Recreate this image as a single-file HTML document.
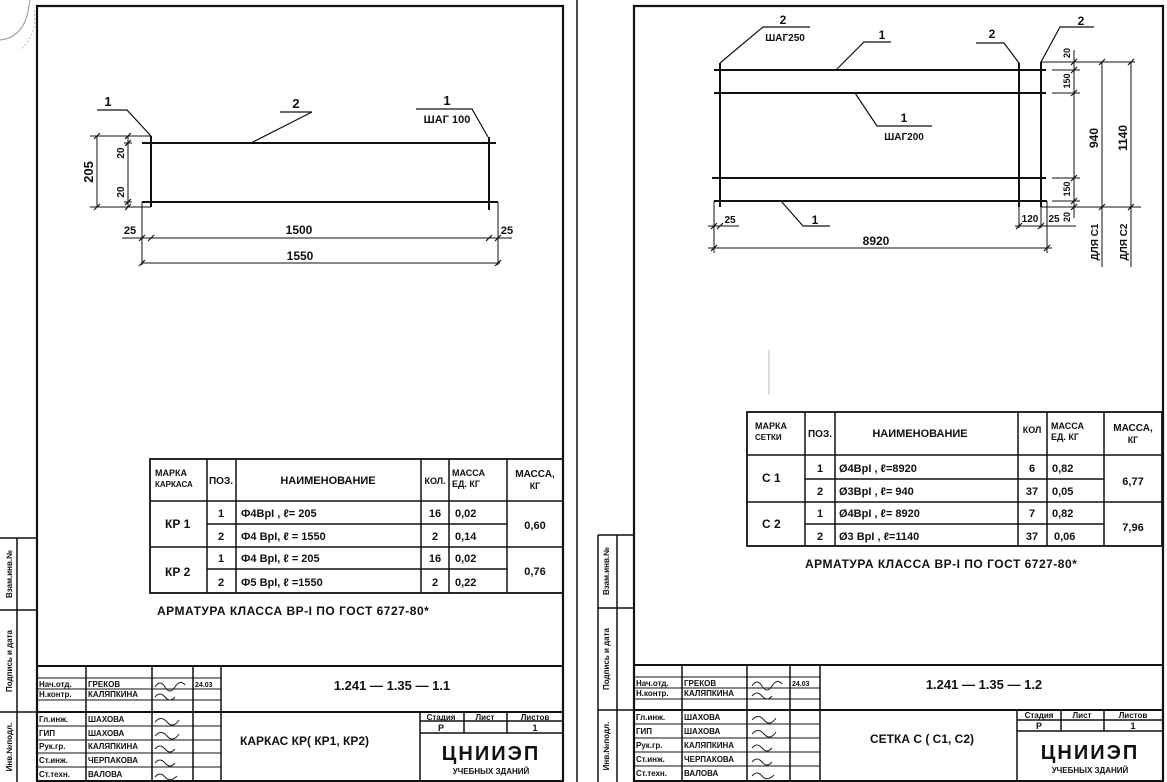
<!DOCTYPE html>
<html><head><meta charset="utf-8"><style>
html,body{margin:0;padding:0;background:#fff;}
svg{display:block;}
text{font-family:"Liberation Sans",sans-serif;font-weight:bold;fill:#111;}
</style></head><body>
<svg width="1167" height="782" viewBox="0 0 1167 782" xmlns="http://www.w3.org/2000/svg">
<rect width="1167" height="782" fill="#fff"/>
<path d="M0 40 Q22 38 28 12 L30 0" fill="none" stroke="#999" stroke-width="1"/>
<path d="M34 10 Q38 35 20 50" fill="none" stroke="#bbb" stroke-width="1" stroke-dasharray="2 2"/>

<g stroke="#111" fill="none">
<path d="M37 782 V6 H563 V782" stroke-width="2.2"/>
<line x1="37" y1="781" x2="563" y2="781" stroke-width="2"/>
<line x1="577" y1="0" x2="577" y2="782" stroke-width="1.5"/>
<path d="M0 538 H37 M17 538 V782 M0 610 H37 M0 712 H37" stroke-width="1.5"/>

<line x1="142" y1="143" x2="496" y2="143" stroke-width="2"/>
<line x1="142" y1="202" x2="498" y2="202" stroke-width="2"/>
<line x1="151" y1="136" x2="151" y2="207" stroke-width="2"/>
<line x1="489" y1="137" x2="489" y2="210" stroke-width="2"/>
<line x1="142" y1="202" x2="142" y2="265" stroke-width="1"/>
<line x1="498" y1="202" x2="498" y2="265" stroke-width="1"/>
<path d="M90 136 H151 M90 207 H151 M97 136 V207 M128 136 V207 M124 143 H132 M124 202 H132" stroke-width="1"/>
<path d="M122 238 H512 M142 263 H500" stroke-width="1"/>
<path d="M94 139 l6 -6 M94 210 l6 -6 M125 139 l6-6 M125 146 l6-6 M125 205 l6-6 M125 210 l6-6 M139 241 l6-6 M148 241 l6-6 M486 241 l6-6 M495 241 l6-6 M139 266 l6-6 M495 266 l6-6" stroke-width="1.2"/>
<path d="M97 110 H127 L151 136" stroke-width="1.2"/>
<path d="M280 112 H312 L251 143" stroke-width="1.2"/>
<path d="M416 109 H472 L488 137" stroke-width="1.2"/>

<rect x="150" y="459" width="413" height="134" stroke-width="1.8"/>
<path d="M150 501 H563 M207 524 H507 M150 547 H563 M207 569 H507 M207 459 V593 M236 459 V593 M421 459 V593 M449 459 V593 M507 459 V593" stroke-width="1.5"/>

<line x1="37" y1="666" x2="563" y2="666" stroke-width="2"/>
<line x1="37" y1="712" x2="563" y2="712" stroke-width="2"/>
<path d="M86 666 V782 M152 666 V782 M193 666 V782 M221 666 V782" stroke-width="1.5"/>
<path d="M37 678 H221 M37 689 H221 M37 700 H221 M37 726 H221 M37 740 H221 M37 753 H221 M37 767 H221" stroke-width="1"/>
<path d="M420 712 V782 M420 721 H563 M420 733 H563 M464 712 V733 M507 712 V733" stroke-width="1.5"/>

<path d="M634 782 V6 H1163 V782" stroke-width="2.2"/>
<line x1="634" y1="781" x2="1163" y2="781" stroke-width="2"/>
<path d="M598 535 H634 M598 535 V782 M617 535 V782 M598 608 H634 M598 710 H634" stroke-width="1.5"/>

<line x1="714" y1="70" x2="1046" y2="70" stroke-width="2"/>
<line x1="714" y1="93" x2="1046" y2="93" stroke-width="2"/>
<line x1="712" y1="178" x2="1046" y2="178" stroke-width="2"/>
<line x1="714" y1="201" x2="1047" y2="201" stroke-width="2"/>
<line x1="720" y1="63" x2="720" y2="207" stroke-width="2"/>
<line x1="1019" y1="63" x2="1019" y2="207" stroke-width="2"/>
<line x1="1041" y1="62" x2="1041" y2="207" stroke-width="2"/>
<path d="M714 201 V253 M1047 201 V253 M1019 207 V228 M1041 207 V228" stroke-width="1"/>
<path d="M708 226 H739 M1015 226 H1076 M708 248 H1052" stroke-width="1"/>
<path d="M1041 62 H1135 M1041 207 H1141 M1074 50 V218 M1052 70 H1080 M1052 93 H1080 M1052 178 H1080 M1052 201 H1080 M1102 62 V267 M1131 62 V267" stroke-width="1"/>
<path d="M711 229 l6-6 M717 229 l6-6 M1016 229 l6-6 M1038 229 l6-6 M711 251 l6-6 M1044 251 l6-6 M1071 65 l6-6 M1071 73 l6-6 M1071 96 l6-6 M1071 181 l6-6 M1071 204 l6-6 M1071 210 l6-6 M1099 65 l6-6 M1099 210 l6-6 M1128 65 l6-6 M1128 210 l6-6" stroke-width="1.2"/>
<path d="M810 27 H763 L720 63" stroke-width="1.2"/>
<path d="M891 42 H864 L836 70" stroke-width="1.2"/>
<path d="M976 43 H1004 L1019 63" stroke-width="1.2"/>
<path d="M1094 27 H1060 L1041 62" stroke-width="1.2"/>
<path d="M855 93 L877 126 H932" stroke-width="1.2"/>
<path d="M781 201 L803 226 H830" stroke-width="1.2"/>
<line x1="769" y1="350" x2="769" y2="395" stroke="#bbb" stroke-width="1"/>

<rect x="747" y="412" width="415" height="134" stroke-width="1.8"/>
<path d="M747 455 H1162 M805 479 H1104 M747 502 H1162 M805 524 H1104 M805 412 V546 M835 412 V546 M1018 412 V546 M1047 412 V546 M1104 412 V546" stroke-width="1.5"/>

<line x1="634" y1="665" x2="1163" y2="665" stroke-width="2"/>
<line x1="634" y1="710" x2="1163" y2="710" stroke-width="2"/>
<path d="M682 665 V782 M747 665 V782 M790 665 V782 M820 665 V782" stroke-width="1.5"/>
<path d="M634 677 H820 M634 688 H820 M634 699 H820 M634 724 H820 M634 738 H820 M634 752 H820 M634 766 H820" stroke-width="1"/>
<path d="M1017 710 V782 M1017 720 H1163 M1017 731 H1163 M1061 710 V731 M1104 710 V731" stroke-width="1.5"/>
</g>

<g font-size="11">
<text x="108" y="106" text-anchor="middle" font-size="13">1</text>
<text x="296" y="108" text-anchor="middle" font-size="13">2</text>
<text x="447" y="105" text-anchor="middle" font-size="13">1</text>
<text x="447" y="123" text-anchor="middle" font-size="11">ШАГ 100</text>
<text transform="translate(93,172) rotate(-90)" text-anchor="middle" font-size="13">205</text>
<text transform="translate(124,153) rotate(-90)" text-anchor="middle" font-size="10">20</text>
<text transform="translate(124,192) rotate(-90)" text-anchor="middle" font-size="10">20</text>
<text x="130" y="234" text-anchor="middle">25</text>
<text x="507" y="234" text-anchor="middle">25</text>
<text x="299" y="234" text-anchor="middle" font-size="12">1500</text>
<text x="300" y="260" text-anchor="middle" font-size="12">1550</text>

<text x="155" y="476" font-size="9">МАРКА</text>
<text x="155" y="487" font-size="8">КАРКАСА</text>
<text x="221" y="484" text-anchor="middle" font-size="10">ПОЗ.</text>
<text x="328" y="484" text-anchor="middle" font-size="11">НАИМЕНОВАНИЕ</text>
<text x="435" y="484" text-anchor="middle" font-size="9">КОЛ.</text>
<text x="452" y="476" font-size="9">МАССА</text>
<text x="452" y="487" font-size="9">ЕД. КГ</text>
<text x="535" y="477" text-anchor="middle" font-size="10">МАССА,</text>
<text x="535" y="489" text-anchor="middle" font-size="9">КГ</text>
<text x="165" y="528" font-size="12">КР 1</text>
<text x="165" y="576" font-size="12">КР 2</text>
<text x="221" y="517" text-anchor="middle">1</text>
<text x="221" y="540" text-anchor="middle">2</text>
<text x="221" y="562" text-anchor="middle">1</text>
<text x="221" y="586" text-anchor="middle">2</text>
<text x="241" y="517">Ф4ВрI ,  ℓ= 205</text>
<text x="241" y="540">Ф4 ВрI,   ℓ = 1550</text>
<text x="241" y="562">Ф4 ВрI,   ℓ = 205</text>
<text x="241" y="586">Ф5 ВрI,   ℓ =1550</text>
<text x="435" y="517" text-anchor="middle">16</text>
<text x="435" y="540" text-anchor="middle">2</text>
<text x="435" y="562" text-anchor="middle">16</text>
<text x="435" y="586" text-anchor="middle">2</text>
<text x="455" y="517">0,02</text>
<text x="455" y="540">0,14</text>
<text x="455" y="562">0,02</text>
<text x="455" y="586">0,22</text>
<text x="535" y="529" text-anchor="middle">0,60</text>
<text x="535" y="575" text-anchor="middle">0,76</text>
<text x="157" y="615" font-size="12" letter-spacing="0.5">АРМАТУРА  КЛАССА   ВР-I   ПО ГОСТ 6727-80*</text>

<text x="392" y="690" text-anchor="middle" font-size="13">1.241 — 1.35 — 1.1</text>
<text x="240" y="745" font-size="12">КАРКАС  КР( КР1, КР2)</text>
<text x="441" y="720" text-anchor="middle" font-size="8">Стадия</text>
<text x="485" y="720" text-anchor="middle" font-size="8">Лист</text>
<text x="535" y="720" text-anchor="middle" font-size="8">Листов</text>
<text x="441" y="731" text-anchor="middle" font-size="9">Р</text>
<text x="535" y="731" text-anchor="middle" font-size="9">1</text>
<text x="491" y="760" text-anchor="middle" font-size="20" font-weight="normal" letter-spacing="2">ЦНИИЭП</text>
<text x="491" y="774" text-anchor="middle" font-size="8">УЧЕБНЫХ ЗДАНИЙ</text>
</g>
<g font-size="8">
<text x="39" y="687">Нач.отд.</text><text x="88" y="687">ГРЕКОВ</text><text x="195" y="687" font-size="7">24.03</text>
<text x="39" y="697">Н.контр.</text><text x="88" y="697">КАЛЯПКИНА</text>
<text x="39" y="722">Гл.инж.</text><text x="88" y="722">ШАХОВА</text>
<text x="39" y="736">ГИП</text><text x="88" y="736">ШАХОВА</text>
<text x="39" y="749">Рук.гр.</text><text x="88" y="749">КАЛЯПКИНА</text>
<text x="39" y="763">Ст.инж.</text><text x="88" y="763">ЧЕРПАКОВА</text>
<text x="39" y="777">Ст.техн.</text><text x="88" y="777">ВАЛОВА</text>
<text transform="translate(12,747) rotate(-90)" text-anchor="middle">Инв.№подл.</text>
<text transform="translate(12,661) rotate(-90)" text-anchor="middle">Подпись и дата</text>
<text transform="translate(12,574) rotate(-90)" text-anchor="middle">Взам.инв.№</text>

<text x="636" y="686">Нач.отд.</text><text x="684" y="686">ГРЕКОВ</text><text x="792" y="686" font-size="7">24.03</text>
<text x="636" y="696">Н.контр.</text><text x="684" y="696">КАЛЯПКИНА</text>
<text x="636" y="720">Гл.инж.</text><text x="684" y="720">ШАХОВА</text>
<text x="636" y="734">ГИП</text><text x="684" y="734">ШАХОВА</text>
<text x="636" y="748">Рук.гр.</text><text x="684" y="748">КАЛЯПКИНА</text>
<text x="636" y="762">Ст.инж.</text><text x="684" y="762">ЧЕРПАКОВА</text>
<text x="636" y="776">Ст.техн.</text><text x="684" y="776">ВАЛОВА</text>
<text transform="translate(609,746) rotate(-90)" text-anchor="middle">Инв.№подл.</text>
<text transform="translate(609,659) rotate(-90)" text-anchor="middle">Подпись и дата</text>
<text transform="translate(609,571) rotate(-90)" text-anchor="middle">Взам.инв.№</text>
</g>
<g stroke="#222" fill="none" stroke-width="1">
<path d="M155 687 q5-8 10 0 t10 0 t10 -2 M155 697 q5-6 10 0 t10 0 M155 722 q6-7 12 0 t12 -2 M155 736 q6-7 12 0 t12 -2 M155 749 q5-6 10 0 t10 0 M155 763 q5-6 10 0 t10 0 M155 777 q5-6 10 0 t12 -1"/>
<path d="M752 686 q5-8 10 0 t10 0 t10 -2 M752 696 q5-6 10 0 t10 0 M752 720 q6-7 12 0 t12 -2 M752 734 q6-7 12 0 t12 -2 M752 748 q5-6 10 0 t10 0 M752 762 q5-6 10 0 t10 0 M752 776 q5-6 10 0 t12 -1"/>
</g>

<g font-size="11">
<text x="783" y="24" text-anchor="middle" font-size="12">2</text>
<text x="785" y="41" text-anchor="middle" font-size="10">ШАГ250</text>
<text x="882" y="39" text-anchor="middle" font-size="12">1</text>
<text x="992" y="38" text-anchor="middle" font-size="12">2</text>
<text x="1081" y="25" text-anchor="middle" font-size="12">2</text>
<text x="904" y="122" text-anchor="middle" font-size="12">1</text>
<text x="904" y="140" text-anchor="middle" font-size="10">ШАГ200</text>
<text x="815" y="224" text-anchor="middle" font-size="12">1</text>
<text x="730" y="223" text-anchor="middle" font-size="10">25</text>
<text x="1030" y="222" text-anchor="middle" font-size="10">120</text>
<text x="1054" y="222" text-anchor="middle" font-size="10">25</text>
<text x="876" y="245" text-anchor="middle" font-size="12">8920</text>
<text transform="translate(1070,53) rotate(-90)" text-anchor="middle" font-size="9">20</text>
<text transform="translate(1070,81) rotate(-90)" text-anchor="middle" font-size="9">150</text>
<text transform="translate(1070,189) rotate(-90)" text-anchor="middle" font-size="9">150</text>
<text transform="translate(1070,217) rotate(-90)" text-anchor="middle" font-size="9">20</text>
<text transform="translate(1098,138) rotate(-90)" text-anchor="middle" font-size="12">940</text>
<text transform="translate(1127,138) rotate(-90)" text-anchor="middle" font-size="12">1140</text>
<text transform="translate(1098,242) rotate(-90)" text-anchor="middle" font-size="10">ДЛЯ С1</text>
<text transform="translate(1127,242) rotate(-90)" text-anchor="middle" font-size="10">ДЛЯ С2</text>

<text x="755" y="429" font-size="9">МАРКА</text>
<text x="755" y="440" font-size="8">СЕТКИ</text>
<text x="820" y="437" text-anchor="middle" font-size="10">ПОЗ.</text>
<text x="920" y="437" text-anchor="middle" font-size="11">НАИМЕНОВАНИЕ</text>
<text x="1032" y="433" text-anchor="middle" font-size="9">КОЛ</text>
<text x="1051" y="429" font-size="9">МАССА</text>
<text x="1051" y="440" font-size="9">ЕД. КГ</text>
<text x="1133" y="431" text-anchor="middle" font-size="10">МАССА,</text>
<text x="1133" y="443" text-anchor="middle" font-size="9">КГ</text>
<text x="762" y="482" font-size="12">С 1</text>
<text x="762" y="528" font-size="12">С 2</text>
<text x="820" y="472" text-anchor="middle">1</text>
<text x="820" y="495" text-anchor="middle">2</text>
<text x="820" y="517" text-anchor="middle">1</text>
<text x="820" y="540" text-anchor="middle">2</text>
<text x="839" y="472">Ø4ВрI ,  ℓ=8920</text>
<text x="839" y="495">Ø3ВрI ,  ℓ= 940</text>
<text x="839" y="517">Ø4ВрI ,  ℓ= 8920</text>
<text x="839" y="540">Ø3 ВрI ,  ℓ=1140</text>
<text x="1032" y="472" text-anchor="middle">6</text>
<text x="1032" y="495" text-anchor="middle">37</text>
<text x="1032" y="517" text-anchor="middle">7</text>
<text x="1032" y="540" text-anchor="middle">37</text>
<text x="1052" y="472">0,82</text>
<text x="1052" y="495">0,05</text>
<text x="1052" y="517">0,82</text>
<text x="1054" y="540">0,06</text>
<text x="1133" y="485" text-anchor="middle">6,77</text>
<text x="1133" y="531" text-anchor="middle">7,96</text>
<text x="805" y="568" font-size="12" letter-spacing="0.5">АРМАТУРА  КЛАССА  ВР-I  ПО  ГОСТ 6727-80*</text>

<text x="984" y="689" text-anchor="middle" font-size="13">1.241 — 1.35 — 1.2</text>
<text x="870" y="743" font-size="12">СЕТКА  С ( С1, С2)</text>
<text x="1039" y="718" text-anchor="middle" font-size="8">Стадия</text>
<text x="1082" y="718" text-anchor="middle" font-size="8">Лист</text>
<text x="1133" y="718" text-anchor="middle" font-size="8">Листов</text>
<text x="1039" y="729" text-anchor="middle" font-size="9">Р</text>
<text x="1133" y="729" text-anchor="middle" font-size="9">1</text>
<text x="1090" y="759" text-anchor="middle" font-size="20" font-weight="normal" letter-spacing="2">ЦНИИЭП</text>
<text x="1090" y="773" text-anchor="middle" font-size="8">УЧЕБНЫХ ЗДАНИЙ</text>
</g>
</svg>
</body></html>
